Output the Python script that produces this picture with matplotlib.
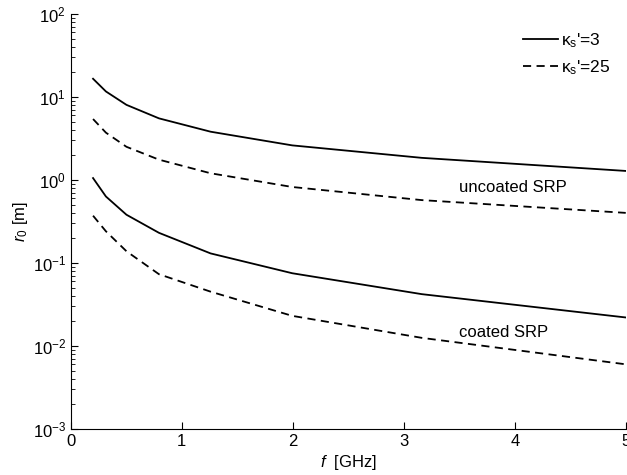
import matplotlib
matplotlib.use("Agg")
import matplotlib.pyplot as plt
from matplotlib.ticker import LogLocator, NullFormatter

plt.rcParams['font.family'] = ['Liberation Sans', 'DejaVu Sans']
plt.rcParams['mathtext.fontset'] = 'custom'
plt.rcParams['mathtext.rm'] = 'Liberation Sans'
plt.rcParams['mathtext.it'] = 'Liberation Sans:italic'
plt.rcParams['mathtext.sf'] = 'Liberation Sans'

# frequency points [GHz]
freq = [0.2, 0.316, 0.501, 0.794, 1.259, 1.995, 3.162, 5.0]

# r0 [m]
uncoated_k3 = [16.5, 11.6, 8.0, 5.5, 3.8, 2.6, 1.84, 1.28]
uncoated_k25 = [5.4, 3.7, 2.5, 1.75, 1.2, 0.82, 0.57, 0.40]
coated_k3 = [1.05, 0.63, 0.38, 0.23, 0.13, 0.075, 0.042, 0.022]
coated_k25 = [0.37, 0.24, 0.138, 0.073, 0.045, 0.023, 0.0125, 0.006]

fig = plt.figure(figsize=(6.27, 4.75), dpi=100)
ax = fig.add_axes([0.113, 0.097, 0.885, 0.874])

dash = (4.5, 3)
ax.semilogy(freq, uncoated_k3, 'k-', lw=1.3, label=r"$\mathrm{\kappa}_{\mathrm{s}}$'=3")
ax.semilogy(freq, uncoated_k25, 'k--', lw=1.3, dashes=dash,
            label=r"$\mathrm{\kappa}_{\mathrm{s}}$'=25")
ax.semilogy(freq, coated_k3, 'k-', lw=1.3)
ax.semilogy(freq, coated_k25, 'k--', lw=1.3, dashes=dash)

ax.set_xlim(0, 5)
ax.set_ylim(1e-3, 1e2)
ax.set_xticks([0, 1, 2, 3, 4, 5])
ax.yaxis.set_major_locator(LogLocator(base=10, numticks=10))
ax.yaxis.set_minor_locator(LogLocator(base=10, subs=range(2, 10), numticks=10))
ax.yaxis.set_minor_formatter(NullFormatter())

ax.spines['top'].set_visible(False)
ax.spines['right'].set_visible(False)
ax.tick_params(direction='in', which='both', labelsize=12)
ax.tick_params(which='major', length=5)
ax.tick_params(which='minor', length=3)

ax.set_xlabel(r"$f$  [GHz]", fontsize=12, labelpad=3)
ax.set_ylabel(r"$r_{\mathit{0}}$ [m]", fontsize=12, labelpad=2)

ax.text(3.5, 0.66, 'uncoated SRP', fontsize=12, va='bottom')
ax.text(3.5, 0.0118, 'coated SRP', fontsize=12, va='bottom')

ax.legend(loc='upper right', bbox_to_anchor=(1.0, 0.995), frameon=False,
          fontsize=12.5, handlelength=2.0, handletextpad=0.15, labelspacing=0.45)

fig.savefig('out.png', dpi=100)
